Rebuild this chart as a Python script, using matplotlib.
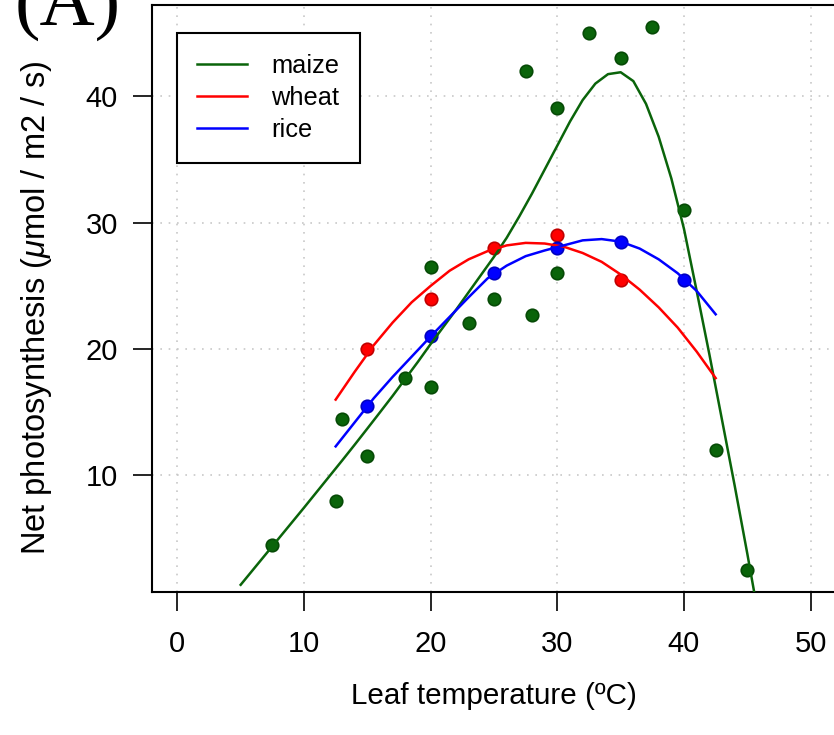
import matplotlib
matplotlib.use("Agg")
import matplotlib.pyplot as plt

# ---- data ----
maize_temp = [7.5, 12.5, 13, 15, 18, 20, 20, 23, 25, 27.5, 28, 30, 30, 32.5, 35, 37.5, 40, 42.5, 45]
maize_an = [4.5, 8.0, 14.5, 11.5, 17.7, 26.5, 17.0, 22.1, 24.0, 42.0, 22.7, 39.1, 26.0, 45.0, 43.0, 45.5, 31.0, 12.0, 2.5]

wheat_temp = [15, 20, 25, 30, 35]
wheat_an = [20.0, 24.0, 28.0, 29.0, 25.5]

rice_temp = [15, 20, 25, 30, 35, 40]
rice_an = [15.5, 21.0, 26.0, 28.0, 28.5, 25.5]

# fitted curves
maize_fit_t = list(range(5, 47))
maize_fit = [1.35, 2.57, 3.79, 5.01, 6.23, 7.45, 8.69, 9.93, 11.17, 12.43, 13.71, 15.0,
             16.3, 17.65, 19.0, 20.4, 21.75, 23.1, 24.5, 25.9, 27.3, 28.8, 30.5, 32.3,
             34.2, 36.1, 38.0, 39.7, 41.0, 41.75, 41.9, 41.2, 39.4, 36.8, 33.5, 29.5,
             24.6, 19.6, 14.4, 9.2, 3.8, -1.8]

fit_t = [12.5, 14, 15.5, 17, 18.5, 20, 21.5, 23, 24.5, 26, 27.5, 29, 30.5, 32, 33.5,
         35, 36.5, 38, 39.5, 41, 42.5]
wheat_fit = [16.0, 18.2, 20.3, 22.1, 23.7, 25.0, 26.2, 27.1, 27.75, 28.2, 28.4, 28.35,
             28.1, 27.6, 26.9, 25.9, 24.7, 23.3, 21.7, 19.8, 17.7]
rice_fit = [12.3, 14.2, 16.1, 17.8, 19.4, 21.0, 22.55, 24.1, 25.6, 26.6, 27.35, 27.8,
            28.2, 28.6, 28.7, 28.5, 27.95, 27.1, 26.0, 24.6, 22.75]

x_ticks = [0, 10, 20, 30, 40, 50]
y_ticks = [10, 20, 30, 40]
labels = ["maize", "wheat", "rice"]
colors = {"maize": "#0a640a", "wheat": "#ff0000", "rice": "#0000ff"}
edge = {"maize": "#064a06", "wheat": "#c00000", "rice": "#0000c0"}

plt.rcParams["font.family"] = ["Liberation Sans", "DejaVu Sans"]
plt.rcParams["mathtext.fontset"] = "custom"
plt.rcParams["mathtext.it"] = "Liberation Sans:italic"
plt.rcParams["mathtext.rm"] = "Liberation Sans"

fig = plt.figure(figsize=(8.34, 7.35), dpi=100)
ax = fig.add_axes([152 / 834, (735 - 592) / 735, 684 / 834, 587 / 735])

ax.set_xlim(-2, 52)
ax.set_ylim(0.78, 47.22)

for xt in x_ticks:
    ax.axvline(xt, color="#c8c8c8", lw=1.2, ls=(0, (1, 4)), zorder=0)
for yt in y_ticks:
    ax.axhline(yt, color="#c8c8c8", lw=1.2, ls=(0, (1, 4)), zorder=0)

ms = 9
ax.plot(maize_temp, maize_an, "o", color=colors["maize"], mec=edge["maize"], mew=1.2, ms=ms, zorder=3)
ax.plot(wheat_temp, wheat_an, "o", color=colors["wheat"], mec=edge["wheat"], mew=1.2, ms=ms, zorder=3)
ax.plot(rice_temp, rice_an, "o", color=colors["rice"], mec=edge["rice"], mew=1.2, ms=ms, zorder=3)

l1, = ax.plot(maize_fit_t, maize_fit, color=colors["maize"], lw=1.8, zorder=4)
l2, = ax.plot(fit_t, wheat_fit, color=colors["wheat"], lw=1.8, zorder=4)
l3, = ax.plot(fit_t, rice_fit, color=colors["rice"], lw=1.8, zorder=4)

leg = ax.legend([l1, l2, l3], labels, loc="upper left", bbox_to_anchor=(0.0365, 0.952),
                borderaxespad=0, fontsize=18.3, handlelength=1.97, handletextpad=0.95,
                borderpad=0.8, labelspacing=0.33, fancybox=False, framealpha=1,
                edgecolor="black")
leg.get_frame().set_linewidth(1.5)
for h in leg.get_lines():
    h.set_linewidth(1.8)

ax.set_xticks(x_ticks)
ax.set_yticks(y_ticks)
ax.tick_params(axis="both", direction="out", length=13.5, width=1.2, labelsize=21, color="black")
ax.tick_params(axis="x", pad=14)
ax.tick_params(axis="y", pad=11)
for s in ax.spines.values():
    s.set_linewidth(1.5)

ax.set_xlabel("Leaf temperature (ºC)", fontsize=21.3, labelpad=17)
ax.set_ylabel(r"Net photosynthesis ($\mu$mol / m2 / s)", fontsize=23.5)
ax.yaxis.set_label_coords(-0.143, 0.485)

fig.text(15 / 834, 1 - 25 / 735, "(A)", family=["Liberation Serif", "DejaVu Serif"],
         fontsize=55, ha="left", va="baseline")

fig.savefig("out.png", dpi=100)
